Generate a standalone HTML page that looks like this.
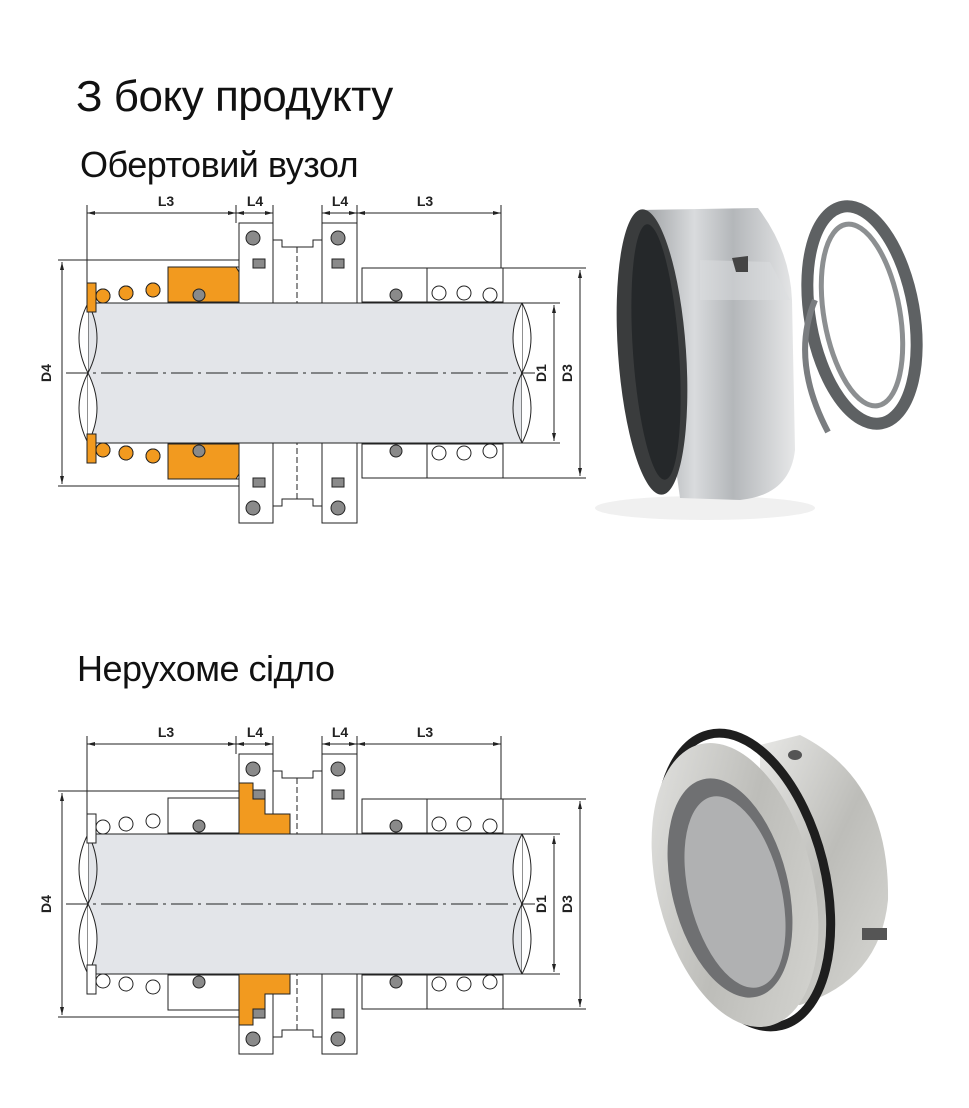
<!DOCTYPE html>
<html><head><meta charset="utf-8"><style>
html,body{margin:0;padding:0;background:#fff;}
body{width:969px;height:1108px;position:relative;overflow:hidden;font-family:"Liberation Sans","DejaVu Sans",sans-serif;}
.t{position:absolute;color:#111;white-space:nowrap;}
</style></head><body>
<div class="t" style="left:76px;top:72px;font-size:44px;letter-spacing:-0.5px;">З боку продукту</div>
<div class="t" style="left:80px;top:144px;font-size:36px;letter-spacing:-0.5px;">Обертовий вузол</div>
<div class="t" style="left:77px;top:648px;font-size:36px;letter-spacing:-0.5px;">Нерухоме сідло</div>
<svg width="969" height="1108" style="position:absolute;left:0;top:0" xmlns="http://www.w3.org/2000/svg">
<defs>
<linearGradient id="met" x1="0" y1="0" x2="1" y2="0"><stop offset="0" stop-color="#9a9da0"/><stop offset="0.35" stop-color="#d9dbdd"/><stop offset="0.6" stop-color="#b4b7ba"/><stop offset="1" stop-color="#e6e7e8"/></linearGradient>
<linearGradient id="met2" x1="0" y1="0" x2="1" y2="1"><stop offset="0" stop-color="#e8e8e6"/><stop offset="0.5" stop-color="#bdbdb9"/><stop offset="1" stop-color="#d8d8d4"/></linearGradient>
<g id="half" stroke="#222" stroke-width="1" fill="#fff">
<rect x="87" y="283" width="9" height="29"/>
<circle cx="103" cy="296" r="7"/><circle cx="126" cy="293" r="7"/><circle cx="153" cy="290" r="7"/><circle cx="180" cy="292" r="7"/>
<rect x="168" y="267" width="71" height="35"/>
<circle cx="199" cy="295" r="6" fill="#8a8a8a"/>
<rect x="239" y="223" width="34" height="80"/>
<circle cx="253" cy="238" r="7" fill="#8a8a8a"/>
<rect x="253" y="259" width="12" height="9" fill="#8a8a8a"/>
<polygon points="273,240 282,240 282,247 313,247 313,240 322,240 322,303 273,303"/>
<line x1="297" y1="247" x2="297" y2="303" stroke-dasharray="6,3"/>
<rect x="322" y="223" width="35" height="80"/>
<circle cx="338" cy="238" r="7" fill="#8a8a8a"/>
<rect x="332" y="259" width="12" height="9" fill="#8a8a8a"/>
<rect x="362" y="268" width="141" height="34"/>
<line x1="427" y1="268" x2="427" y2="302"/>
<circle cx="396" cy="295" r="6" fill="#8a8a8a"/>
<circle cx="439" cy="293" r="7"/><circle cx="464" cy="293" r="7"/><circle cx="490" cy="295" r="7"/>
</g>
<g id="shaft" stroke="#222" stroke-width="1">
<rect x="88" y="303" width="434" height="140" fill="#e3e5e9"/>
<path d="M88,303 Q70,338 88,373 Q106,408 88,443" fill="#fff"/>
<path d="M88,303 Q106,338 88,373 Q70,408 88,443" fill="none"/>
<path d="M522,303 Q504,338 522,373 Q540,408 522,443" fill="#fff"/>
<path d="M522,303 Q540,338 522,373 Q504,408 522,443" fill="none"/>
<line x1="66" y1="373" x2="535" y2="373" stroke-dasharray="22,5,3,5"/>
</g>
<g id="dims" stroke="#222" stroke-width="1" fill="none">
<line x1="87" y1="205" x2="87" y2="283"/><line x1="236" y1="205" x2="236" y2="223"/><line x1="273" y1="205" x2="273" y2="223"/>
<line x1="322" y1="205" x2="322" y2="223"/><line x1="357" y1="205" x2="357" y2="223"/><line x1="501" y1="205" x2="501" y2="268"/>
<line x1="87" y1="213" x2="236" y2="213"/><line x1="236" y1="213" x2="273" y2="213"/>
<line x1="322" y1="213" x2="357" y2="213"/><line x1="357" y1="213" x2="501" y2="213"/>
<line x1="58" y1="260" x2="239" y2="260"/><line x1="58" y1="486" x2="239" y2="486"/>
<line x1="62" y1="262" x2="62" y2="484"/>
<line x1="503" y1="268" x2="586" y2="268"/><line x1="503" y1="478" x2="586" y2="478"/>
<line x1="580" y1="270" x2="580" y2="476"/>
<line x1="522" y1="303" x2="560" y2="303"/><line x1="522" y1="443" x2="560" y2="443"/>
<line x1="554" y1="305" x2="554" y2="441"/>
<g fill="#222" stroke="none">
<polygon points="87,213 95,211 95,215"/><polygon points="236,213 228,211 228,215"/>
<polygon points="236,213 244,211 244,215"/><polygon points="273,213 265,211 265,215"/>
<polygon points="322,213 330,211 330,215"/><polygon points="357,213 349,211 349,215"/>
<polygon points="357,213 365,211 365,215"/><polygon points="501,213 493,211 493,215"/>
<polygon points="62,262 60,270 64,270"/><polygon points="62,484 60,476 64,476"/>
<polygon points="580,270 578,278 582,278"/><polygon points="580,476 578,468 582,468"/>
<polygon points="554,305 552,313 556,313"/><polygon points="554,441 552,433 556,433"/>
</g>
</g>
</defs>
<use href="#shaft"/>
<use href="#half"/>
<use href="#half" transform="translate(0,746) scale(1,-1)"/>
<use href="#dims"/>
<g fill="#f29a1f" stroke="#222" stroke-width="1">
<rect x="87" y="283" width="9" height="29"/><circle cx="103" cy="296" r="7"/><circle cx="126" cy="293" r="7"/><circle cx="153" cy="290" r="7"/><circle cx="180" cy="292" r="7"/>
<polygon points="168,267 236,267 239,272 239,302 168,302"/>
<circle cx="199" cy="295" r="6" fill="#8a8a8a"/>
<rect x="87" y="434" width="9" height="29"/><circle cx="103" cy="450" r="7"/><circle cx="126" cy="453" r="7"/><circle cx="153" cy="456" r="7"/><circle cx="180" cy="454" r="7"/>
<polygon points="168,444 239,444 239,474 236,479 168,479"/>
<circle cx="199" cy="451" r="6" fill="#8a8a8a"/>
</g>
<g font-family="Liberation Sans Narrow,Liberation Sans,sans-serif" font-weight="bold" font-size="14" fill="#222" text-anchor="middle">
<text x="166" y="206">L3</text><text x="255" y="206">L4</text><text x="340" y="206">L4</text><text x="425" y="206">L3</text>
<text transform="translate(51,373) rotate(-90)">D4</text>
<text transform="translate(546,373) rotate(-90)">D1</text>
<text transform="translate(572,373) rotate(-90)">D3</text>
</g>
<g transform="translate(0,531)">
<use href="#shaft"/>
<use href="#half"/>
<use href="#half" transform="translate(0,746) scale(1,-1)"/>
<use href="#dims"/>
<g fill="#f29a1f" stroke="#222" stroke-width="1">
<polygon points="239,252 253,252 253,268 265,268 265,283 290,283 290,303 239,303"/>
<rect x="253" y="259" width="12" height="9" fill="#8a8a8a"/>
<polygon points="239,494 253,494 253,478 265,478 265,463 290,463 290,443 239,443"/>
<rect x="253" y="478" width="12" height="9" fill="#8a8a8a"/>
</g>
<g font-family="Liberation Sans Narrow,Liberation Sans,sans-serif" font-weight="bold" font-size="14" fill="#222" text-anchor="middle">
<text x="166" y="206">L3</text><text x="255" y="206">L4</text><text x="340" y="206">L4</text><text x="425" y="206">L3</text>
<text transform="translate(51,373) rotate(-90)">D4</text>
<text transform="translate(546,373) rotate(-90)">D1</text>
<text transform="translate(572,373) rotate(-90)">D3</text>
</g>
</g>
<!-- photo 1 -->
<ellipse cx="705" cy="508" rx="110" ry="12" fill="#f0f0f0"/>
<path d="M640,210 L758,208 Q790,250 792,300 L795,450 Q790,495 740,500 L680,498 Z" fill="url(#met)"/>
<path d="M700,260 L770,262 L790,300 L700,300 Z" fill="#dcdedf" opacity="0.5"/>
<ellipse cx="652" cy="352" rx="34" ry="143" fill="#3a3c3d" transform="rotate(-4 652 352)"/>
<ellipse cx="656" cy="352" rx="23" ry="128" fill="#25282a" transform="rotate(-4 656 352)"/>
<path d="M732,258 L748,256 L748,272 L736,272 Z" fill="#444"/>
<ellipse cx="862" cy="315" rx="52" ry="110" fill="none" stroke="#5e6163" stroke-width="12" transform="rotate(-10 862 315)"/>
<ellipse cx="862" cy="315" rx="38" ry="92" fill="none" stroke="#8c8f91" stroke-width="5" transform="rotate(-10 862 315)"/>
<path d="M815,300 Q790,360 828,432" fill="none" stroke="#7a7d80" stroke-width="6"/>
<!-- photo 2 -->
<path d="M760,745 L800,735 Q890,780 888,900 Q880,980 800,1005 L760,1000 Z" fill="url(#met2)"/>
<ellipse cx="745" cy="880" rx="80" ry="150" fill="none" stroke="#1e1e1e" stroke-width="9" transform="rotate(-14 745 880)"/>
<ellipse cx="735" cy="885" rx="78" ry="145" fill="url(#met2)" transform="rotate(-14 735 885)"/>
<ellipse cx="730" cy="888" rx="58" ry="112" fill="#6f7072" transform="rotate(-14 730 888)"/>
<ellipse cx="735" cy="892" rx="46" ry="98" fill="#b0b1b2" transform="rotate(-14 735 892)"/>
<ellipse cx="795" cy="755" rx="7" ry="5" fill="#555"/>
<rect x="862" y="928" width="25" height="12" fill="#555"/>
</svg>
</body></html>
